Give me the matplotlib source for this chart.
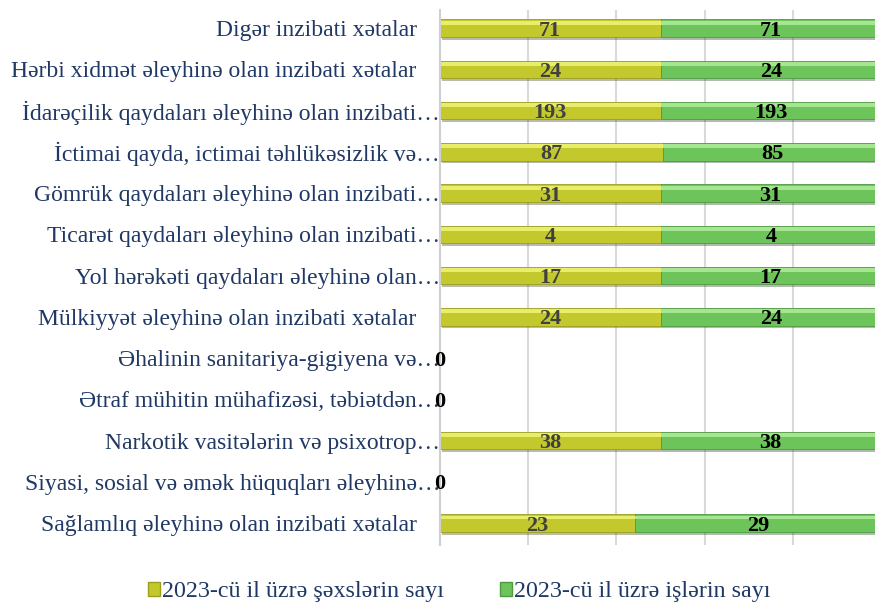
import numpy as np
import matplotlib
matplotlib.use("Agg")
import matplotlib.pyplot as plt
from matplotlib.patches import Patch
import matplotlib.patheffects as pe

categories = [
    "Digər inzibati xətalar    ",
    "Hərbi xidmət əleyhinə olan inzibati xətalar    ",
    "İdarəçilik qaydaları əleyhinə olan inzibati…",
    "İctimai qayda, ictimai təhlükəsizlik və…",
    "Gömrük qaydaları əleyhinə olan inzibati…",
    "Ticarət qaydaları əleyhinə olan inzibati…",
    "Yol hərəkəti qaydaları əleyhinə olan…",
    "Mülkiyyət əleyhinə olan inzibati xətalar    ",
    "Əhalinin sanitariya-gigiyena və…",
    "Ətraf mühitin mühafizəsi, təbiətdən…",
    "Narkotik vasitələrin və psixotrop…",
    "Siyasi, sosial və əmək hüquqları əleyhinə…",
    "Sağlamlıq əleyhinə olan inzibati xətalar    ",
]
persons = [71, 24, 193, 87, 31, 4, 17, 24, 0, 0, 38, 0, 23]
cases = [71, 24, 193, 85, 31, 4, 17, 24, 0, 0, 38, 0, 29]
series_names = ["2023-cü il üzrə şəxslərin sayı", "2023-cü il üzrə işlərin sayı"]

plt.rcParams['font.family'] = ['Liberation Serif', 'DejaVu Serif']
navy = "#1F3864"

p = np.array(persons, dtype=float)
c = np.array(cases, dtype=float)
tot = p + c
safe = np.where(tot == 0, 1, tot)
pf = p / safe
cf = c / safe
n = len(categories)
y = np.arange(n)[::-1]

fig = plt.figure(figsize=(8.75, 6.03), dpi=100)
ax = fig.add_axes([440 / 875, 1 - 545 / 603, 441 / 875, 535 / 603])

h = 0.42
shadow = [pe.SimplePatchShadow(offset=(1.5, -2), alpha=0.35), pe.Normal()]
b1 = ax.barh(y, pf, height=h, color="#C3C92C", edgecolor="#9A9E1E", lw=0.6)
b2 = ax.barh(y, cf, left=pf, height=h, color="#6CC45A", edgecolor="#4E9A40", lw=0.6)
for b in list(b1) + list(b2):
    b.set_path_effects(shadow)
# top highlight strips for bevel look
ax.barh(y + h * 0.32, pf, height=h * 0.22, color="#E8EE6A", lw=0)
ax.barh(y + h * 0.32, cf, left=pf, height=h * 0.22, color="#A6E690", lw=0)

ty = y - 0.06
for i in range(n):
    if tot[i] == 0:
        ax.text(0, ty[i], "0", ha="center", va="center", fontsize=16,
                fontweight="bold", color="black")
        continue
    ax.text(pf[i] / 2, ty[i], f"{persons[i]}", ha="center", va="center",
            fontsize=16, fontweight="bold", color="#404040")
    ax.text(pf[i] + cf[i] / 2, ty[i], f"{cases[i]}", ha="center", va="center",
            fontsize=16, fontweight="bold", color="black")

ax.set_xlim(0, 1)
ax.set_ylim(-0.53, n - 0.56)
ax.set_xticks([0.2, 0.4, 0.6, 0.8, 1.0])
ax.set_xticklabels([])
ax.tick_params(axis="x", length=0)
ax.grid(axis="x", color="#D9D9D9", lw=1.5)
ax.set_axisbelow(True)
ax.set_yticks(y)
ax.set_yticklabels(categories, fontsize=17, color=navy)
ax.tick_params(axis="y", length=0, pad=0)
for s in ["top", "right", "bottom"]:
    ax.spines[s].set_visible(False)
ax.spines["left"].set_color("#D0D0D0")
ax.spines["left"].set_linewidth(1.5)

handles = [Patch(facecolor="#C3C92C", edgecolor="#9A9E1E"),
           Patch(facecolor="#6CC45A", edgecolor="#4E9A40")]
fig.legend(handles, series_names, loc="center", bbox_to_anchor=(0.525, 1 - 592 / 603),
           ncol=2, frameon=False, fontsize=17.3, labelcolor=navy,
           handlelength=0.5, handleheight=0.5, handletextpad=0.1, columnspacing=2.3)

fig.savefig("out.png", dpi=100)
